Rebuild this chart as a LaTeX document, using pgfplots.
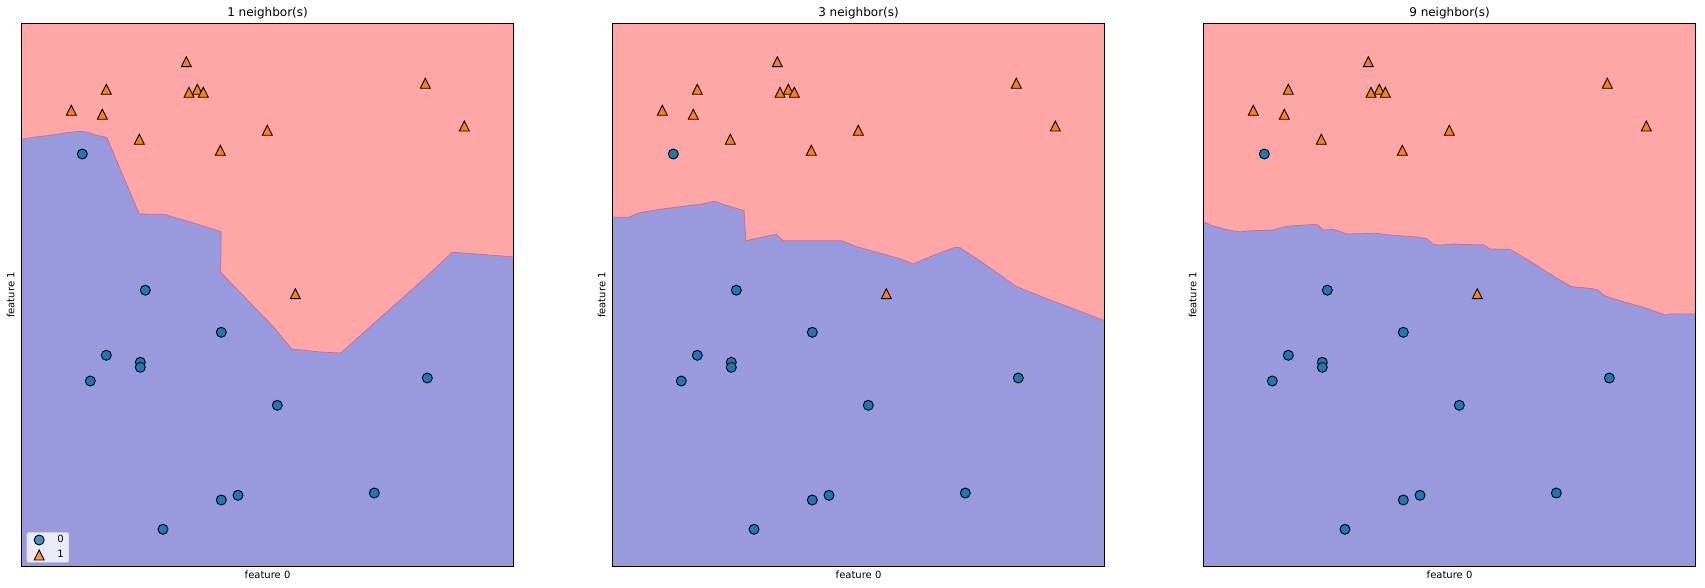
\documentclass[border=0pt]{standalone}
\usepackage{pgfplots}
\pgfplotsset{compat=1.18}
\usepackage{pgfplotstable}
\usepackage{fontspec}
\setmainfont{DejaVu Sans}
\definecolor{redbg}{RGB}{255,166,166}
\definecolor{bluebg}{RGB}{153,153,221}
\definecolor{edgec}{RGB}{204,102,153}
\definecolor{cblue}{RGB}{31,119,180}
\definecolor{corange}{RGB}{255,127,14}
\pgfdeclareplotmark{mpltri}{%
  \pgfpathmoveto{\pgfqpoint{0pt}{\pgfplotmarksize}}%
  \pgfpathlineto{\pgfqpoint{-\pgfplotmarksize}{-\pgfplotmarksize}}%
  \pgfpathlineto{\pgfqpoint{\pgfplotmarksize}{-\pgfplotmarksize}}%
  \pgfpathclose\pgfusepathqfillstroke}

\pgfplotstableread{
x y
61.0 412.7
124.0 276.5
200.0 234.4
85.0 211.4
119.0 204.4
119.0 199.4
69.0 185.7
256.0 161.4
406.0 188.7
200.0 66.7
216.7 71.4
141.7 37.4
353.0 73.7
}\circles
\pgfplotstableread{
x y
165.0 505.0
85.0 477.4
167.7 474.4
176.0 477.4
182.0 474.4
50.0 456.4
81.0 452.4
118.0 427.4
246.0 436.4
199.0 416.4
404.0 483.4
443.0 440.7
274.0 273.0
}\triangles
\pgfplotstableread{
x y
0 0
0 427.4
12 429.4
28.7 431.4
45.4 434
58.7 435.4
65.4 434.7
73.7 431.7
85.4 429.4
118 352.7
143 352.4
178.7 341.7
199.7 335
199.7 310
199 295
206.7 286.7
252 240
270.4 217.7
298.7 214.7
319.4 213.7
401.4 286.7
431 314.4
458.7 312.4
492.5 309.7
492.5 0
}\bone
\pgfplotstableread{
x y
0 0
0 349.4
16 349.4
27.7 354
47.7 357.4
67.7 360
89.4 362.7
102 365.4
112.7 361.7
131.7 356
132.7 340
133.7 326
146 328.7
163.7 332.4
171 326
229.4 326
244.4 320
287.7 308
301 302.7
317.7 310
342.7 319.4
347.7 319
371 303.4
404.4 280
411 277.4
437.7 266.7
492.5 246
492.5 0
}\btwo
\pgfplotstableread{
x y
0 0
0 345
10 340.7
21.7 337.4
36.7 334.7
43.4 335.7
70 336.7
83.4 340.4
96.7 341.4
113.4 342.4
120 336.7
130 337.4
143.4 332.7
173.4 333.4
183.4 332
210 330
223.4 328
230 322.4
236.7 321.4
250 322.7
263.4 322.4
271.7 321.7
280 322
286.7 317.7
306.7 317.4
330 303.4
353.4 288.4
368.4 280
380 279
393.4 277.4
401.7 270.7
420 265
440 259.4
461.7 251.7
466.7 252.7
492.5 252.7
492.5 0
}\bthree

\pgfplotsset{
  knn/.style={
    scale only axis, width=492.5pt, height=543.4pt,
    xmin=0, xmax=492.5, ymin=0, ymax=543.4,
    xtick=\empty, ytick=\empty,
    axis background/.style={fill=redbg},
    axis line style={black, line width=0.9pt},
    axis on top,
    every axis title shift=0pt,
    title style={at={(axis description cs:0.5,1.0125)}, anchor=base, font=\fontsize{12}{14}\selectfont},
    xlabel style={at={(axis description cs:0.5,-0.0213)}, anchor=base, font=\fontsize{10}{12}\selectfont},
    ylabel style={at={(axis description cs:-0.0142,0.5)}, anchor=base, font=\fontsize{10}{12}\selectfont},
    xlabel={feature 0}, ylabel={feature 1},
  },
  region/.style={fill=bluebg, draw=edgec, line width=0.7pt, forget plot},
  cpts/.style={only marks, mark=*, mark size=5pt, mark options={fill=cblue, draw=black, line width=0.9pt}},
  tpts/.style={only marks, mark=mpltri, mark size=5pt, mark options={fill=corange, draw=black, line width=0.9pt}},
}

\begin{document}
\begin{tikzpicture}[x=1pt,y=1pt]
\useasboundingbox (0,0) rectangle (1705,588);
\begin{axis}[knn, at={(21.3pt,21.3pt)}, anchor=south west,
  title={1 neighbor(s)},
  legend style={at={(axis cs:5.4,4)}, anchor=south west,
    draw={rgb,255:red,204;green,204;blue,204}, fill=white, fill opacity=0.8, text opacity=1,
    rounded corners=2pt, font=\fontsize{10}{12}\selectfont, inner xsep=4pt, inner ysep=0pt,
    row sep=0pt, column sep=5.6pt, nodes={inner sep=1pt, draw=none}},
  legend cell align=left,
  legend image code/.code={%
    \path[draw=none,fill=none] (0pt,-7.5pt) rectangle (20pt,7.5pt);
    \draw[sharp corners,#1] plot coordinates {(8.3pt,0pt)};},
]
\addplot[region] table {\bone} -- cycle;
\addplot[cpts] table {\circles};
\addlegendentry{0}
\addplot[tpts] table {\triangles};
\addlegendentry{1}
\end{axis}
\begin{axis}[knn, at={(612.3pt,21.3pt)}, anchor=south west, title={3 neighbor(s)}]
\addplot[region] table {\btwo} -- cycle;
\addplot[cpts] table {\circles};
\addplot[tpts] table {\triangles};
\end{axis}
\begin{axis}[knn, at={(1203.3pt,21.3pt)}, anchor=south west, title={9 neighbor(s)}]
\addplot[region] table {\bthree} -- cycle;
\addplot[cpts] table {\circles};
\addplot[tpts] table {\triangles};
\end{axis}
\end{tikzpicture}
\end{document}
